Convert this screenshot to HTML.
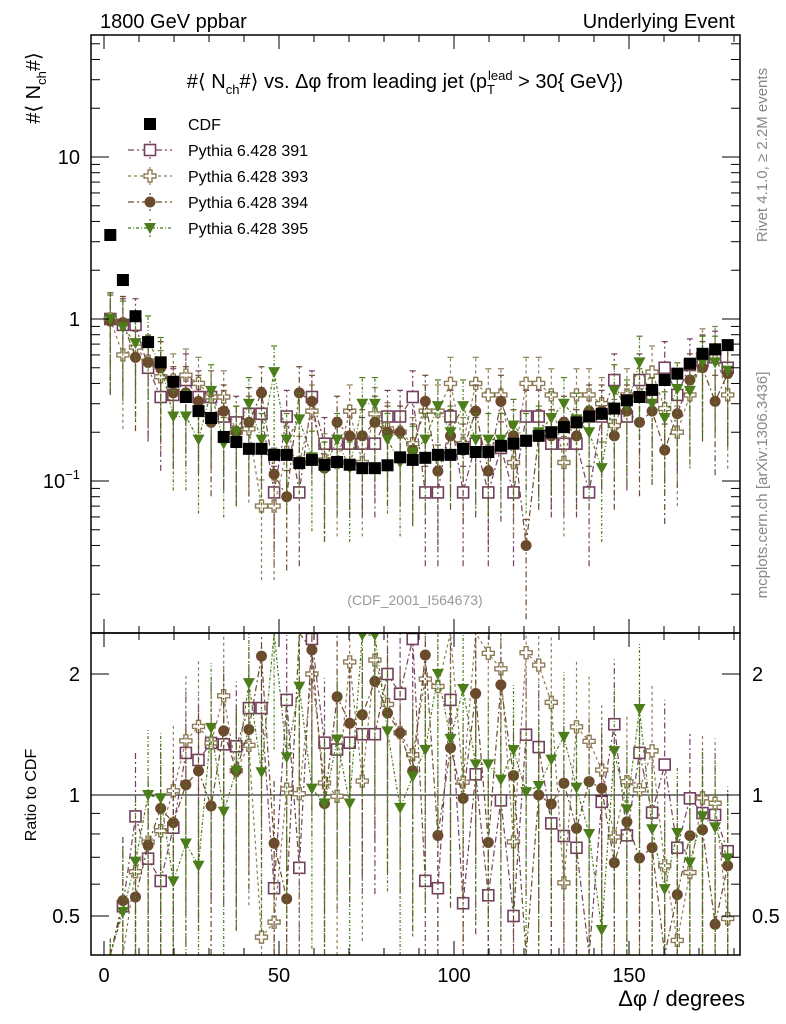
<!DOCTYPE html>
<html><head><meta charset="utf-8"><style>
html,body{margin:0;padding:0;background:#fff;width:786px;height:1024px;overflow:hidden}
svg{display:block}
svg text{font-family:"Liberation Sans",sans-serif}
</style></head><body>
<svg id="c" width="786" height="1024" xmlns="http://www.w3.org/2000/svg">
<rect width="786" height="1024" fill="#fff"/>
<g id="plot"></g>
<text x="100" y="28" font-size="20">1800 GeV ppbar</text>
<text x="735" y="28" font-size="20" text-anchor="end">Underlying Event</text>
<text x="405" y="88" font-size="20" text-anchor="middle">#⟨ N<tspan font-size="13" dy="6">ch</tspan><tspan dy="-6">#⟩ vs. Δφ from leading jet  (p</tspan><tspan font-size="13" dy="6">T</tspan><tspan font-size="13" dy="-14" dx="-7">lead</tspan><tspan dy="8"> &gt; 30{ GeV})</tspan></text>
<text transform="translate(40,88) rotate(-90)" font-size="20" text-anchor="middle">#⟨ N<tspan font-size="13" dy="6">ch</tspan><tspan dy="-6">#⟩</tspan></text>
<text transform="translate(36,795) rotate(-90)" font-size="16" text-anchor="middle">Ratio to CDF</text>
<text x="745" y="1006" font-size="22" text-anchor="end">Δφ / degrees</text>
<text transform="translate(767,155) rotate(-90)" font-size="15" fill="#888" text-anchor="middle">Rivet 4.1.0, ≥ 2.2M events</text>
<text transform="translate(767,485) rotate(-90)" font-size="15" fill="#888" text-anchor="middle">mcplots.cern.ch [arXiv:1306.3436]</text>
<text x="415" y="605" font-size="14" fill="#999" text-anchor="middle">(CDF_2001_I564673)</text>
</svg>
<script>
const cdf=[3.3,1.74,1.04,0.72,0.54,0.41,0.33,0.27,0.245,0.187,0.174,0.158,0.158,0.145,0.145,0.129,0.135,0.126,0.131,0.126,0.12,0.12,0.125,0.14,0.135,
0.139,0.145,0.145,0.158,0.151,0.151,0.165,0.17,0.177,0.19,0.2,0.215,0.23,0.25,0.26,0.28,0.315,0.33,0.365,0.42,0.46,0.53,0.61,0.65,0.69];
const p391=[1.0,0.92,0.92,0.5,0.33,0.34,0.42,0.33,0.33,0.25,0.23,0.26,0.26,0.085,0.25,0.085,0.33,0.17,0.17,0.17,0.17,0.17,0.25,0.25,0.33,
0.085,0.085,0.25,0.085,0.17,0.085,0.16,0.085,0.25,0.25,0.17,0.17,0.17,0.085,0.25,0.42,0.25,0.42,0.33,0.5,0.34,0.52,0.55,0.58,0.5];
const p393=[1.0,0.6,0.67,0.55,0.44,0.42,0.45,0.4,0.33,0.33,0.2,0.21,0.07,0.07,0.15,0.13,0.27,0.135,0.13,0.27,0.13,0.26,0.21,0.2,0.17,
0.27,0.27,0.4,0.17,0.4,0.34,0.34,0.13,0.4,0.4,0.34,0.13,0.34,0.34,0.3,0.22,0.34,0.34,0.47,0.28,0.2,0.34,0.6,0.62,0.34];
const p394=[0.97,0.95,0.58,0.54,0.5,0.35,0.35,0.31,0.23,0.27,0.2,0.23,0.35,0.11,0.08,0.35,0.31,0.12,0.23,0.19,0.19,0.23,0.2,0.2,0.155,
0.31,0.115,0.19,0.155,0.27,0.115,0.31,0.19,0.04,0.19,0.19,0.23,0.19,0.27,0.27,0.19,0.27,0.23,0.27,0.155,0.26,0.42,0.5,0.31,0.46];
const p395=[1.0,0.89,0.71,0.72,0.53,0.25,0.25,0.18,0.36,0.17,0.2,0.3,0.18,0.47,0.18,0.24,0.14,0.12,0.18,0.12,0.3,0.3,0.18,0.13,0.15,
0.18,0.29,0.2,0.29,0.18,0.18,0.18,0.22,0.18,0.2,0.245,0.3,0.24,0.2,0.12,0.36,0.29,0.54,0.3,0.245,0.37,0.36,0.54,0.54,0.48];
const xTicks=[0,50,100,150];
const yTicks=[10,1,0.1];
const rTicks=[2,1,0.5];
const binW=3.6;

const NS="http://www.w3.org/2000/svg";
const g=document.getElementById('plot');
const L=91,R=740,T=35,M=633,B=955;
const cl=(v,a,b)=>Math.max(a,Math.min(b,v));
const X=v=>104+3.5*v;
const Y=v=>cl(319-162*Math.log10(v),T,M);
const RY=v=>cl(795-121*Math.log2(v),M,B);
function el(t,a,p){const e=document.createElementNS(NS,t);for(const k in a)e.setAttribute(k,a[k]);(p||g).appendChild(e);return e;}
const clipM=el('clipPath',{id:'cm'});el('rect',{x:L,y:T,width:R-L,height:M-T},clipM);
const clipR=el('clipPath',{id:'cr'});el('rect',{x:L,y:M,width:R-L,height:B-M},clipR);
const gm=el('g',{'clip-path':'url(#cm)'});


const gr=el('g',{'clip-path':'url(#cr)'});


el('line',{x1:L,x2:R,y1:RY(1),y2:RY(1),stroke:'#000','stroke-width':1},gr);

const series=[
 {d:p391,c:'#74405f',m:'sq',n:'pythia-391',dash:'6,3,2,3'},
 {d:p393,c:'#8f7c57',m:'cross',n:'pythia-393',dash:'3,3'},
 {d:p394,c:'#6b4a2e',m:'circ',n:'pythia-394',dash:'6,3,2,3'},
 {d:p395,c:'#4c7d1b',m:'tri',n:'pythia-395',dash:'3,2,1,2'}];
function marker(par,m,x,y,c,name){
 let e;
 if(m==='sq')e=el('rect',{x:x-5.5,y:y-5.5,width:11,height:11,fill:'#fff',stroke:c,'stroke-width':1.6},par);
 else if(m==='cross')e=el('path',{d:`M${x-2},${y-6}h4v4h4v4h-4v4h-4v-4h-4v-4h4z`,fill:'#fff',stroke:c,'stroke-width':1.4},par);
 else if(m==='circ')e=el('circle',{cx:x,cy:y,r:5.5,fill:c},par);
 else if(m==='tri')e=el('path',{d:`M${x-6},${y-5}h12l-6,11z`,fill:c},par);
 else e=el('rect',{x:x-6,y:y-6,width:12,height:12,fill:'#000'},par);
 
 
}
series.forEach(s=>{
 const gs=el('g',{},gm);
 
 
 const grs=el('g',{},gr);
 
 
 let pts=[],rpts=[];
 s.d.forEach((v,i)=>{
  const x=X(binW*(i+0.5));
  const lo=v*0.35,hi=v*1.45;
  el('line',{x1:x,x2:x,y1:Y(lo),y2:Y(hi),stroke:s.c,'stroke-width':1.2,'stroke-dasharray':s.dash},gs);
  el('line',{x1:x-3,x2:x+3,y1:Y(hi),y2:Y(hi),stroke:s.c,'stroke-width':1.2},gs);
  const r=v/cdf[i];
  el('line',{x1:x,x2:x,y1:RY(r*0.4),y2:RY(r*1.45),stroke:s.c,'stroke-width':1.2,'stroke-dasharray':s.dash},grs);
  pts.push(x+','+Y(v));rpts.push(x+','+RY(r));
 });
 el('polyline',{points:pts.join(' '),fill:'none',stroke:s.c,'stroke-width':1.2,'stroke-dasharray':s.dash},gs);
 el('polyline',{points:rpts.join(' '),fill:'none',stroke:s.c,'stroke-width':1.2,'stroke-dasharray':s.dash},grs);
 s.d.forEach((v,i)=>{const x=X(binW*(i+0.5));const r=v/cdf[i];
  marker(gs,s.m,x,Y(v),s.c,s.n+'-point');
  if(RY(r)>M&&RY(r)<B)marker(grs,s.m,x,RY(r),s.c,s.n+'-ratio-point');});
});
const gc=el('g',{},gm);


cdf.forEach((v,i)=>marker(gc,'data',X(binW*(i+0.5)),Y(v),'#000','cdf-point'));

el('rect',{x:L,y:T,width:R-L,height:M-T,fill:'none',stroke:'#000','stroke-width':1.5});
el('rect',{x:L,y:M,width:R-L,height:B-M,fill:'none',stroke:'#000','stroke-width':1.5});
for(let v=0;v<=180;v+=10){const x=X(v),len=v%50===0?14:7;
 [[M,-1],[T,1],[B,-1],[M,1]].forEach(([y,d])=>el('line',{x1:x,x2:x,y1:y,y2:y+d*len,stroke:'#000'}));}
xTicks.forEach(v=>{const t=el('text',{x:X(v),y:982,'font-size':20,'text-anchor':'middle'});t.textContent=v;
 
 });
for(let e=-2;e<=1;e++)for(let m=1;m<10;m++){const v=m*Math.pow(10,e),yr=319-162*Math.log10(v);if(yr<T||yr>M)continue;const len=m===1?18:9;
 el('line',{x1:L,x2:L+len,y1:yr,y2:yr,stroke:'#000'});el('line',{x1:R,x2:R-len,y1:yr,y2:yr,stroke:'#000'});}
yTicks.forEach(v=>{const t=el('text',{x:80,y:Y(v)+7,'font-size':20,'text-anchor':'end'});
 if(v===0.1){t.innerHTML='10<tspan font-size="13" dy="-9">−1</tspan>';}else t.textContent=v;
 
 });
[0.5,0.6,0.7,0.8,0.9,1,2].forEach(v=>{const y=RY(v);const len=(v===1||v===2||v===0.5)?18:9;
 el('line',{x1:L,x2:L+len,y1:y,y2:y,stroke:'#000'});el('line',{x1:R,x2:R-len,y1:y,y2:y,stroke:'#000'});});
rTicks.forEach(v=>{[[80,'end'],[752,'start']].forEach(([x,a])=>{const t=el('text',{x:x,y:RY(v)+7,'font-size':20,'text-anchor':a});t.textContent=v;
 
 });});
const leg=el('g',{});


const legItems=[['CDF','data','#000',''],['Pythia 6.428 391','sq','#74405f','6,3,2,3'],['Pythia 6.428 393','cross','#8f7c57','3,3'],['Pythia 6.428 394','circ','#6b4a2e','6,3,2,3'],['Pythia 6.428 395','tri','#4c7d1b','3,2,1,2']];
legItems.forEach((it,i)=>{const y=124+26*i;
 if(it[3]){el('line',{x1:128,x2:172,y1:y,y2:y,stroke:it[2],'stroke-width':1.2,'stroke-dasharray':it[3]},leg);
  el('line',{x1:150,x2:150,y1:y-9,y2:y+9,stroke:it[2],'stroke-width':1.2,'stroke-dasharray':'2,2'},leg);}
 marker(leg,it[1],150,y,it[2],'legend-marker');
 const t=el('text',{x:188,y:y+6,'font-size':16},leg);t.textContent=it[0];
 
 });
</script>
</body></html>
